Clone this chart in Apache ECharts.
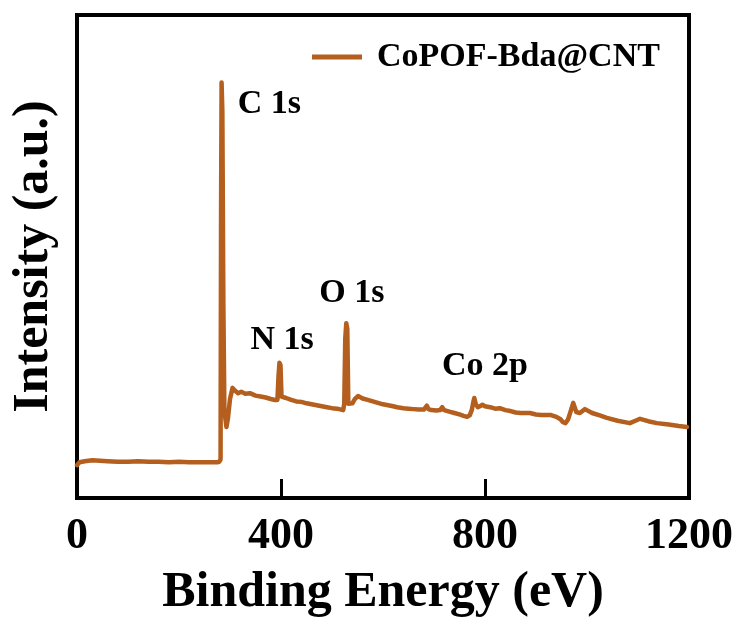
<!DOCTYPE html>
<html>
<head>
<meta charset="utf-8">
<script src="https://cdn.jsdelivr.net/npm/echarts@6/dist/echarts.min.js"></script>
<style>
html,body{margin:0;padding:0;background:#fff;}
#chart{width:739px;height:625px;}
</style>
</head>
<body>
<div id="chart"></div>
<script>
// Binding energy (eV) and intensity (a.u.)
const energy = [0, 5, 15, 30, 45, 60, 80, 100, 120, 140, 160, 180, 200, 220, 240, 260, 275, 279, 281.5, 282.5, 283.5, 285, 287, 289, 293, 296, 300, 305, 310, 316, 322, 330, 339, 350, 360, 370, 380, 388, 393, 395, 397, 399, 401, 404, 410, 420, 430, 440, 450, 460, 470, 480, 490, 500, 510, 518, 522, 524, 526, 528, 530, 532, 535, 540, 545, 551, 560, 570, 580, 590, 600, 610, 620, 628, 640, 650, 660, 670, 680, 683, 686, 689, 695, 705, 712, 716, 720, 730, 740, 750, 758, 765, 770, 774, 777, 779, 782, 786, 790, 795, 800, 810, 820, 829, 840, 850, 860, 870, 888, 900, 910, 928, 940, 948, 953, 958, 963, 968, 973, 979, 986, 996, 1010, 1025, 1039, 1060, 1084, 1095, 1104, 1120, 1137, 1160, 1180, 1196];
const intensity = [6.8, 7.4, 7.6, 7.8, 7.7, 7.6, 7.5, 7.5, 7.6, 7.5, 7.5, 7.4, 7.5, 7.4, 7.4, 7.4, 7.4, 7.5, 8.0, 60, 86, 80, 40, 18, 14.7, 16.5, 20.5, 22.8, 22.2, 21.7, 22.0, 21.6, 21.7, 21.2, 21.0, 20.8, 20.5, 20.3, 20.3, 25, 28, 27.5, 21, 20.6, 20.7, 20.3, 20.0, 19.9, 19.6, 19.4, 19.2, 19.0, 18.8, 18.6, 18.5, 18.3, 18.2, 19.5, 33, 36.2, 35, 19.5, 19.3, 19.6, 20.5, 21.1, 20.6, 20.3, 20.0, 19.7, 19.4, 19.2, 19.0, 18.8, 18.6, 18.5, 18.4, 18.3, 18.3, 18.6, 19.1, 18.4, 18.2, 18.1, 18.2, 18.8, 18.2, 17.9, 17.6, 17.3, 17.0, 16.8, 17.1, 18.2, 19.8, 20.7, 19.4, 18.8, 19.0, 19.3, 19.0, 18.8, 18.5, 18.6, 18.2, 18.0, 17.7, 17.6, 17.6, 17.3, 17.2, 17.2, 16.8, 16.3, 15.7, 15.5, 16.3, 18.0, 19.7, 17.8, 17.6, 18.4, 17.6, 17.1, 16.6, 16.0, 15.5, 16.0, 16.4, 15.9, 15.5, 15.2, 14.9, 14.7];
const seriesName = 'CoPOF-Bda@CNT';
const xTicks = [0, 400, 800, 1200];
// peak annotations (text and where they sit, in data units)
const peakNames = ['C 1s', 'N 1s', 'O 1s', 'Co 2p'];
const peakLabelX = [377, 402, 539, 800];
const peakLabelY = [81.6, 32.7, 42.4, 27.3];

const lineData = energy.map((e, i) => [e, intensity[i]]);
const labelData = peakNames.map((n, i) => ({ name: n, value: [peakLabelX[i], peakLabelY[i]] }));
const FONT = "'Times New Roman', 'Liberation Serif', serif";
const COLOR = '#B45F1E';

const chart = echarts.init(document.getElementById('chart'), null, { renderer: 'canvas' });
chart.setOption({
  animation: false,
  backgroundColor: '#fff',
  grid: { left: 77, right: 50, top: 15, bottom: 127, show: true, borderColor: '#000', borderWidth: 4, backgroundColor: 'transparent' },
  legend: {
    data: [seriesName],
    left: 312, top: 40, padding: 0,
    icon: 'rect', itemWidth: 50, itemHeight: 5,
    textStyle: { fontFamily: FONT, fontWeight: 'bold', fontSize: 34, color: '#000', padding: [0, 0, 0, 10] }
  },
  xAxis: {
    type: 'value', min: 0, max: 1200, interval: 400,
    name: 'Binding Energy (eV)', nameLocation: 'middle', nameGap: 70,
    nameTextStyle: { fontFamily: FONT, fontWeight: 'bold', fontSize: 50, color: '#000' },
    axisLine: { show: true, lineStyle: { color: '#000', width: 4 } },
    axisTick: { show: true, inside: true, length: 19, lineStyle: { color: '#000', width: 3 } },
    axisLabel: { fontFamily: FONT, fontWeight: 'bold', fontSize: 44, color: '#000', margin: 17,
      formatter: v => xTicks.includes(v) ? String(v) : '' },
    splitLine: { show: false }
  },
  yAxis: {
    type: 'value', min: 0, max: 100,
    name: 'Intensity (a.u.)', nameLocation: 'middle', nameGap: 18, nameRotate: 90,
    nameTextStyle: { fontFamily: FONT, fontWeight: 'bold', fontSize: 50, color: '#000' },
    axisLine: { show: true, lineStyle: { color: '#000', width: 4 } },
    axisTick: { show: false },
    axisLabel: { show: false },
    splitLine: { show: false }
  },
  series: [
    {
      name: seriesName, type: 'line', data: lineData,
      showSymbol: false, symbol: 'none', sampling: null,
      lineStyle: { color: COLOR, width: 4.5, join: 'round', cap: 'round' },
      itemStyle: { color: COLOR }
    },
    {
      name: 'labels', type: 'scatter', data: labelData, symbolSize: 0, silent: true,
      itemStyle: { opacity: 1 },
      label: { show: true, position: 'inside', formatter: p => p.name, opacity: 1,
        fontFamily: FONT, fontWeight: 'bold', fontSize: 34, color: '#000' }
    }
  ]
});
</script>
</body>
</html>
